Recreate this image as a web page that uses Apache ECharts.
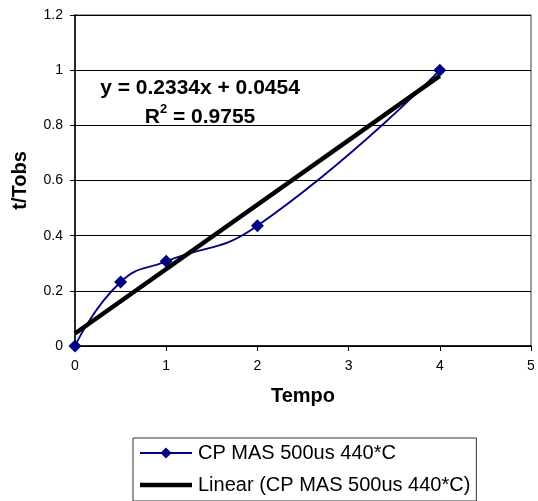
<!DOCTYPE html>
<html>
<head>
<meta charset="utf-8">
<script src="https://cdn.jsdelivr.net/npm/echarts@6/dist/echarts.min.js"></script>
<style>
  html, body { margin: 0; padding: 0; background: #fff; }
  #chart { width: 538px; height: 501px; }
</style>
</head>
<body>
<div id="chart"></div>
<script>
// measured points
var tempo = [0, 0.5, 1, 2, 4];
var ratio = [0, 0.232, 0.307, 0.436, 1.0];

// Excel linear trendline
var slope = 0.2334;
var intercept = 0.0454;
var trendX = [0, 4];

var seriesName = 'CP MAS 500us 440*C';
var trendName = 'Linear (CP MAS 500us 440*C)';

var pairs = tempo.map(function (x, i) { return [x, ratio[i]]; });
var trendPairs = trendX.map(function (x) { return [x, +(slope * x + intercept).toFixed(4)]; });

var chart = echarts.init(document.getElementById('chart'));

var options = {
  animation: false,
  textStyle: { fontFamily: 'Liberation Sans, Arial, sans-serif', color: '#000' },
  grid: {
    left: 75, right: 7, top: 15, bottom: 155,
    show: true, borderColor: '#808080', borderWidth: 1.5,
    containLabel: false
  },
  xAxis: {
    type: 'value', min: 0, max: 5, interval: 1,
    name: 'Tempo', nameLocation: 'middle', nameGap: 40,
    nameTextStyle: { fontSize: 20, fontWeight: 'bold', color: '#000' },
    axisLine: { lineStyle: { color: '#000', width: 1.5 } },
    axisTick: { show: true, inside: false, length: 5, lineStyle: { color: '#000' } },
    axisLabel: { fontSize: 14, color: '#000', margin: 13 },
    splitLine: { show: false }
  },
  yAxis: {
    type: 'value', min: 0, max: 1.2, interval: 0.2,
    name: 't/Tobs', nameLocation: 'middle', nameGap: 45, nameRotate: 90,
    nameTextStyle: { fontSize: 20, fontWeight: 'bold', color: '#000' },
    axisLine: { lineStyle: { color: '#000', width: 1.5 } },
    axisTick: { show: true, inside: false, length: 5, lineStyle: { color: '#000' } },
    axisLabel: { fontSize: 14, color: '#000', margin: 12 },
    splitLine: { show: true, lineStyle: { color: '#000', width: 1 } }
  },
  legend: {
    orient: 'vertical', left: 133, top: 438,
    padding: [5, 6, 6, 6], itemGap: 12,
    itemWidth: 52, itemHeight: 14,
    borderColor: '#333', borderWidth: 1,
    textStyle: { fontSize: 20, color: '#000', padding: [0, 0, 0, 1] },
    data: [
      { name: seriesName },
      { name: trendName, icon: 'path://M0,0 H52 V4.5 H0 Z', itemStyle: { color: '#000' } }
    ]
  },
  graphic: [{
    type: 'text',
    x: 200, y: 74,
    style: {
      text: 'y = 0.2334x + 0.0454\n{r|R}{sup|2}{r| = 0.9755}',
      fontSize: 21, fontWeight: 'bold', fill: '#000',
      fontFamily: 'Liberation Sans, Arial, sans-serif',
      align: 'center', verticalAlign: 'top', lineHeight: 29,
      rich: {
        r: { fontSize: 21, fontWeight: 'bold', lineHeight: 29 },
        sup: { fontSize: 13, fontWeight: 'bold', verticalAlign: 'top', lineHeight: 29, padding: [0, 0, 10, 0] }
      }
    }
  }],
  series: [{
    name: seriesName,
    type: 'line',
    smooth: 0.5,
    data: pairs,
    symbol: 'diamond', symbolSize: 13,
    itemStyle: { color: '#000080' },
    lineStyle: { color: '#000080', width: 1.8 },
    z: 2
  }, {
    name: trendName,
    type: 'line',
    data: trendPairs,
    symbol: 'none',
    itemStyle: { color: '#000' },
    lineStyle: { color: '#000', width: 4.5 },
    z: 3
  }]
};

chart.setOption(options);
</script>
</body>
</html>
